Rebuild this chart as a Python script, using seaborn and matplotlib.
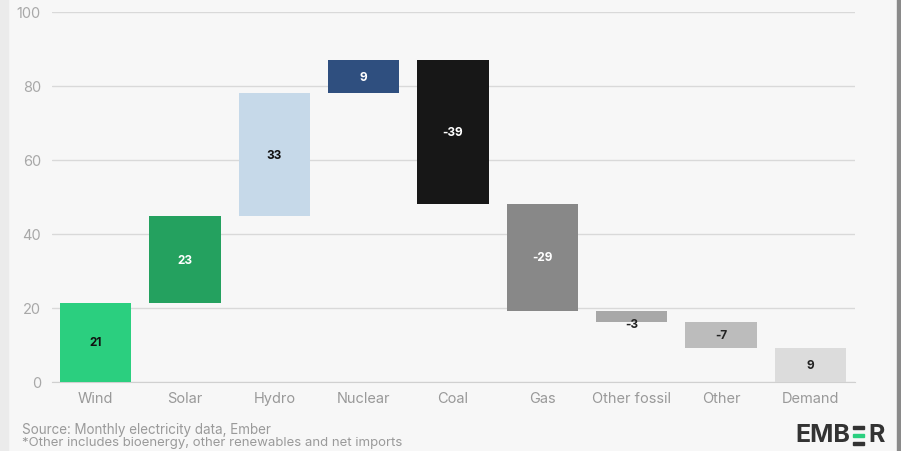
import matplotlib
matplotlib.use("Agg")
import matplotlib.pyplot as plt
from matplotlib.patches import Rectangle
import seaborn as sns
import numpy as np
import pandas as pd

categories = ["Wind", "Solar", "Hydro", "Nuclear", "Coal", "Gas", "Other fossil", "Other", "Demand"]
changes = [21.4, 23.4, 33.3, 8.9, -38.9, -28.9, -3.0, -7.0]  # Demand is the total
colors = ["#2bcf7f", "#24a15f", "#c6d9e9", "#2f4f7f", "#171717", "#888888", "#a8a8a8", "#bcbcbc", "#dcdcdc"]
label_colors = ["#111111", "white", "#111111", "white", "white", "white", "#222222", "#222222", "#222222"]

# waterfall: start/end of every step, last bar is the total from zero
ends = list(np.cumsum(changes))
starts = [0] + ends[:-1]
total = ends[-1]
starts.append(0)
ends.append(total)
values = changes + [total]

df = pd.DataFrame({
    "category": categories,
    "height": np.array(ends) - np.array(starts),
    "bottom": starts,
})

sns.set_style("white")
plt.rcParams["font.family"] = ["Inter", "DejaVu Sans"]

bg = "#f7f7f7"
fig = plt.figure(figsize=(9.01, 4.52), dpi=100, facecolor=bg)
ax = fig.add_axes([52 / 901, 1 - 383 / 452, 803 / 901, 370 / 452])
ax.set_facecolor(bg)

sns.barplot(data=df, x="category", y="height", order=categories, color="#888888",
            bottom=df["bottom"].to_numpy(), width=0.8, errorbar=None,
            saturation=1, linewidth=0, ax=ax, zorder=3)
for patch, c in zip(ax.patches, colors):
    patch.set_facecolor(c)
    patch.set_edgecolor(c)

for i, v in enumerate(values):
    lo, hi = min(starts[i], ends[i]), max(starts[i], ends[i])
    y = (lo + hi) / 2 if abs(v) >= 5 else lo - 0.6
    ax.text(i, y, f"{round(v):d}", ha="center", va="center", fontsize=8.5,
            fontweight="bold", color=label_colors[i], zorder=4)

ax.set_ylim(0, 100)
ax.set_xlim(-0.49, 8.5)
ax.set_yticks([0, 20, 40, 60, 80, 100])
ax.yaxis.grid(True, color="#d9d9d9", linewidth=1, zorder=0)
ax.set_axisbelow(True)
for s in ["top", "right", "left"]:
    ax.spines[s].set_visible(False)
ax.spines["bottom"].set_color("#d0d0d0")
ax.tick_params(axis="y", length=0, pad=8, labelsize=10.5, labelcolor="#a8a8a8")
ax.tick_params(axis="x", length=4, width=1, color="#c8c8c8", pad=2.5, labelsize=10.5, labelcolor="#999999")
ax.set_xlabel("")
ax.set_ylabel("")

# frame strips
fig.patches.append(Rectangle((0, 0), 8 / 901, 1, transform=fig.transFigure, color="#ebebeb", zorder=0))
fig.patches.append(Rectangle((897 / 901, 0), 4 / 901, 1, transform=fig.transFigure, color="#8a8a8a", zorder=0))

fig.text(22 / 901, 1 - 430 / 452, "Source: Monthly electricity data, Ember", fontsize=9.7,
         color="#9a9a9a", va="center", ha="left")
fig.text(22 / 901, 1 - 443 / 452, "*Other includes bioenergy, other renewables and net imports", fontsize=9.5,
         color="#9a9a9a", va="center", ha="left")

# EMBER logo
logo_y = 1 - 436 / 452
fig.text(850 / 901, logo_y, "EMB", fontsize=18, fontweight="bold", color="#333333", ha="right", va="center")
fig.text(868 / 901, logo_y, "R", fontsize=18, fontweight="bold", color="#333333", ha="left", va="center")
for yy, c in [(427, "#333333"), (435, "#2bcf7f"), (443, "#333333")]:
    fig.patches.append(Rectangle((853 / 901, 1 - (yy + 3) / 452), 11 / 901, 3 / 452,
                                 transform=fig.transFigure, color=c))

fig.savefig("out.png", dpi=100, facecolor=bg)
